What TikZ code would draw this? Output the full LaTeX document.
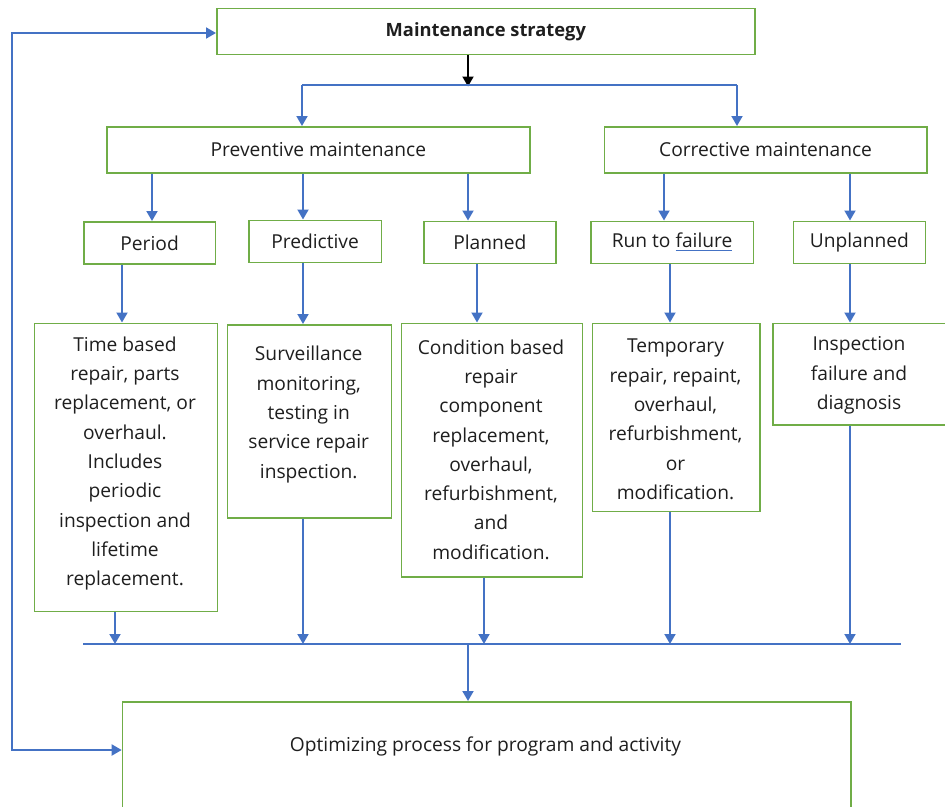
\documentclass[tikz,border=0pt]{standalone}
\usepackage{fontspec}
\setmainfont{Open Sans}
\usetikzlibrary{arrows.meta}

\definecolor{boxgreen}{RGB}{112,173,71}
\definecolor{flowblue}{RGB}{68,114,196}
\definecolor{inktext}{RGB}{30,30,30}

% blue underline under a word
\newcommand\blueline[1]{\setbox0\hbox{#1}\rlap{\textcolor{flowblue}{\rule[-3.5pt]{\wd0}{1.2pt}}}#1}

\tikzset{
  box/.style={draw=boxgreen, line width=1.7pt, anchor=north west, inner sep=0pt,
    text=inktext, font=\fontsize{19.2}{29.3}\selectfont},
  txt/.style={align=center, inner sep=0pt, text=inktext,
    font=\fontsize{19.2}{29.3}\selectfont},
  tip/.style={-{Triangle[length=10pt,width=11pt]}},
  flow/.style={draw=flowblue, line width=1.9pt, tip},
  flowline/.style={draw=flowblue, line width=1.9pt},
  twoway/.style={draw=flowblue, line width=1.9pt,
    {Triangle[length=10pt,width=11pt]}-{Triangle[length=10pt,width=11pt]}},
  blackflow/.style={draw=black, line width=1.9pt, tip}
}

\begin{document}
\begin{tikzpicture}[x=1pt,y=-1pt]
\useasboundingbox (0,0) rectangle (945,806);
\clip (0,0) rectangle (945,806);

% top level
\node[box, minimum width=538pt, minimum height=46pt, font=\fontsize{18.3}{22}\selectfont\bfseries]
  (ms) at (216,7.5) {Maintenance strategy};

% second level
\node[box, minimum width=423pt, minimum height=46pt] (pm) at (106,126) {Preventive maintenance};
\node[box, minimum width=322.5pt, minimum height=46pt] (cm) at (603.5,126) {Corrective maintenance};

% third level
\node[box, minimum width=131.5pt, minimum height=42pt] (per)  at (83,221)    {Period};
\node[box, minimum width=132.5pt, minimum height=42pt] (pred) at (248,219.5) {Predictive};
\node[box, minimum width=132pt,   minimum height=42pt] (plan) at (423,220.5) {Planned};
\node[box, minimum width=162.5pt, minimum height=42pt] (run)  at (590,220.5) {Run to \blueline{failure}};
\node[box, minimum width=132pt,   minimum height=42pt] (unpl) at (792.5,220.5) {Unplanned};

% activity boxes
\node[box, minimum width=183pt,   minimum height=288pt]   (tb)   at (33.5,322.5)  {};
\node[box, minimum width=164pt,   minimum height=193pt]   (surv) at (226.7,324)   {};
\node[box, minimum width=181pt,   minimum height=253.5pt] (cond) at (400.5,322.5) {};
\node[box, minimum width=167.5pt, minimum height=188pt]   (temp) at (591.7,322.5) {};
\node[box, minimum width=180pt,   minimum height=101.5pt] (insp) at (772.3,322.5) {};

\node[txt] (tbt)   at (125,463.5) {Time based\\repair, parts\\replacement, or\\overhaul.\\Includes\\periodic\\inspection and\\lifetime\\replacement.};
\node[txt] (survt) at (308.7,414.5) {Surveillance\\monitoring,\\testing in\\service repair\\inspection.};
\node[txt] (condt) at (491,449.5) {Condition based\\repair\\component\\replacement,\\overhaul,\\refurbishment,\\and\\modification.};
\node[txt] (tempt) at (675.5,419.5) {Temporary\\repair, repaint,\\overhaul,\\refurbishment,\\or\\modification.};
\node[txt] (inspt) at (859,375.5) {Inspection\\failure and\\diagnosis};

% final box
\node[box, minimum width=728.3pt, minimum height=130pt] (opt) at (121.7,701) {};
\node[txt] (optt) at (485.5,746.5) {Optimizing process for program and activity};

% connector columns and junctions
\coordinate (split) at (468,85);
\coordinate (splitL) at (302,85);
\coordinate (splitR) at (737,85);
\coordinate (c1) at (152,0);
\coordinate (c2) at (122,0);
\coordinate (c3) at (115,0);
\coordinate (cA) at (303,0);
\coordinate (c4) at (468,0);
\coordinate (c5) at (477,0);
\coordinate (c6) at (484,0);
\coordinate (c7) at (664,0);
\coordinate (c8) at (670,0);
\coordinate (c9) at (850,0);
\coordinate (busL) at (83,644);
\coordinate (busR) at (901,644);
\coordinate (fbTop) at (12,33);
\coordinate (fbBot) at (12,750);

% strategy split
\draw[blackflow] (ms.south -| split) -- ([yshift=-1.5pt]split);
\draw[flowline] (splitL) -- (splitR);
\draw[flow] (splitL) -- (pm.north -| splitL);
\draw[flow] (splitR) -- (cm.north -| splitR);

% second to third level
\draw[flow] (pm.south -| c1) -- (per.north -| c1);
\draw[flow] (pm.south -| cA) -- (pred.north -| cA);
\draw[flow] (pm.south -| c4) -- (plan.north -| c4);
\draw[flow] (cm.south -| c7) -- (run.north -| c7);
\draw[flow] (cm.south -| c9) -- (unpl.north -| c9);

% third level to activities
\draw[flow] (per.south -| c2)  -- (tb.north -| c2);
\draw[flow] (pred.south -| cA) -- (surv.north -| cA);
\draw[flow] (plan.south -| c5) -- (cond.north -| c5);
\draw[flow] (run.south -| c8)  -- (temp.north -| c8);
\draw[flow] (unpl.south -| c9) -- (insp.north -| c9);

% activities to collecting line
\draw[flowline] (busL) -- (busR);
\draw[flow] (tb.south -| c3)   -- (busL -| c3);
\draw[flow] (surv.south -| cA) -- (busL -| cA);
\draw[flow] (cond.south -| c6) -- (busL -| c6);
\draw[flow] (temp.south -| c8) -- (busL -| c8);
\draw[flow] (insp.south -| c9) -- (busL -| c9);

% collecting line to optimization
\draw[flow] (busL -| c4) -- (opt.north -| c4);

% feedback loop
\draw[twoway] (opt.west |- fbBot) -- (fbBot) -- (fbTop) -- (ms.west |- fbTop);
\end{tikzpicture}
\end{document}
